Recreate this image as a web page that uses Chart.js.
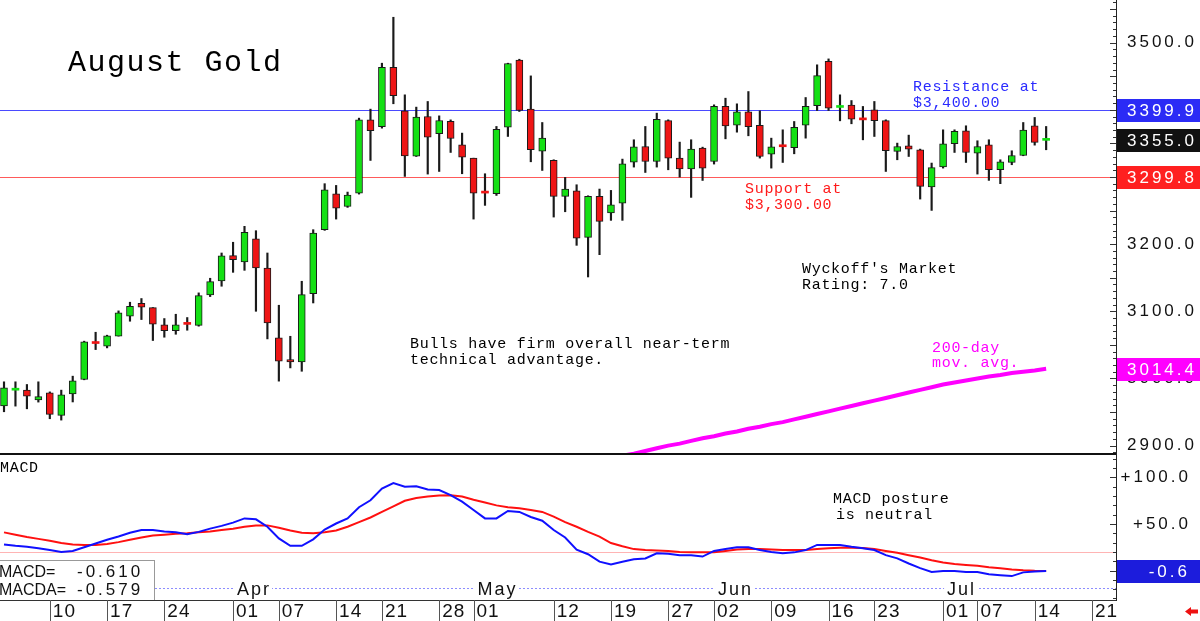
<!DOCTYPE html>
<html>
<head>
<meta charset="utf-8">
<title>August Gold</title>
<script src="https://cdn.jsdelivr.net/npm/chart.js@4.4.1/dist/chart.umd.min.js"></script>
<style>
  body { margin: 0; background: #fff; }
  #wrap { position: relative; width: 1200px; height: 621px; overflow: hidden; }
  #price { position: absolute; left: 0; top: 0; }
  #macd { position: absolute; left: 0; top: 453px; }
</style>
</head>
<body>
<div id="wrap">
  <canvas id="price" width="1200" height="453"></canvas>
  <canvas id="macd" width="1200" height="168"></canvas>
</div>
<script>
// --- Data: one entry per trading day, Mar 04 .. Jul 15 ---
const opens = [2959, 2982.5, 2982.6, 2968, 2978.6, 2945, 2977, 2998.4, 3052.5, 3048,
  3063, 3092.6, 3112, 3105.5, 3079.8, 3071.3, 3081, 3079, 3124.4, 3145.2,
  3183, 3173.5, 3208, 3164.5, 3060.3, 3028, 3024.7, 3126.3, 3221.5, 3275,
  3256, 3276, 3385, 3375, 3463.4, 3398.5, 3331, 3390, 3364.3, 3383,
  3348, 3328, 3276.5, 3275, 3374, 3474, 3401, 3338.5, 3324.6, 3271,
  3279.5, 3210, 3271, 3246.3, 3261, 3322, 3345.4, 3323, 3384, 3328,
  3312, 3343, 3323, 3405, 3377, 3397, 3377, 3334, 3346, 3343.5,
  3377, 3406, 3472, 3403.5, 3407, 3385.5, 3400, 3384, 3338, 3346.4,
  3340.5, 3285, 3315, 3349.4, 3368.7, 3335.5, 3348, 3310.7, 3321.6, 3332,
  3376, 3354.5];
const highs = [2995, 2995, 2991, 2995, 2980, 2982.6, 3003.4, 3055.5, 3068.8, 3064.4,
  3100.6, 3113.5, 3119, 3105.5, 3089.2, 3095.6, 3090.7, 3127.4, 3149.2, 3186.8,
  3202.8, 3226.5, 3220, 3186.8, 3109, 3062.8, 3144.7, 3221.5, 3290, 3287.4,
  3277.5, 3387.6, 3401, 3469.4, 3537.8, 3422.3, 3404, 3412.4, 3391, 3385,
  3365.3, 3328, 3304.8, 3375.2, 3469.4, 3475.3, 3450.5, 3381.1, 3325.6, 3299.3,
  3288.4, 3272, 3282, 3280, 3326.6, 3355.4, 3375.2, 3395, 3385.1, 3351.9,
  3355.4, 3344.4, 3407.4, 3417.3, 3408.9, 3427.2, 3398.5, 3357.8, 3370.2, 3382.6,
  3418.3, 3467, 3475.8, 3422.3, 3413.8, 3405, 3412.4, 3385.1, 3350.4, 3362.3,
  3341.5, 3320.7, 3370.2, 3370.2, 3376.2, 3353.9, 3355.4, 3325.6, 3339, 3381.1,
  3388.6, 3375.2];
const lows = [2950.4, 2958.8, 2954.8, 2964.8, 2940, 2938, 2965, 2998, 3043, 3045.5,
  3063, 3085.2, 3087.7, 3056.5, 3061.4, 3065.8, 3071.8, 3077.8, 3121.9, 3137.3,
  3158, 3161, 3100, 3058.9, 2996, 3015.7, 3010.7, 3112.4, 3220.5, 3237.3,
  3254.7, 3274.5, 3324.6, 3372.7, 3409, 3300.8, 3330.5, 3304.3, 3308.2, 3336.5,
  3304.8, 3237.3, 3257.7, 3272.5, 3360.3, 3397.5, 3322.6, 3309.7, 3240.3, 3248.2,
  3198.2, 3151.1, 3184.3, 3235.4, 3235.4, 3314.7, 3306.7, 3314.7, 3310.7, 3299.8,
  3269.6, 3294.8, 3319.2, 3356.8, 3366.7, 3361.3, 3328.1, 3313.2, 3321.6, 3334.5,
  3357.8, 3399, 3399, 3383.6, 3379.2, 3355.3, 3360.3, 3308.2, 3325.6, 3330.5,
  3267.1, 3250.2, 3313.2, 3336.5, 3321.6, 3304.3, 3294.9, 3290, 3318.2, 3331.6,
  3347.4, 3340.5];
const closes = [2986, 2983, 2973.7, 2973, 2946.4, 2975.6, 2996.5, 3054.5, 3052, 3063.4,
  3097.6, 3107.5, 3106, 3081, 3071.3, 3079.8, 3080.5, 3123.4, 3144.2, 3182.4,
  3177, 3217.6, 3164.5, 3082.7, 3025.7, 3024.7, 3124.8, 3216.5, 3281, 3253.7,
  3273, 3385, 3369, 3463.4, 3421, 3331.5, 3389, 3359.4, 3384.1, 3357.3,
  3329.6, 3276, 3276, 3371, 3469, 3399, 3340.5, 3357.8, 3271, 3282,
  3209, 3271, 3234, 3258.7, 3319.6, 3345, 3323, 3386, 3328, 3312,
  3341.5, 3313, 3405, 3376, 3397, 3375, 3330.5, 3345, 3345, 3374,
  3405, 3451, 3402.5, 3404, 3386, 3385, 3384, 3339, 3345.4, 3341.5,
  3286, 3314, 3349.4, 3367.8, 3336.5, 3345.4, 3310.7, 3322.6, 3332, 3370,
  3351.4, 3355];

// 200-day moving average, visible part only (starts at trading day index 50)
const maStart = 50;
const ma200 = [2869, 2873, 2877, 2881, 2885, 2888, 2892, 2896, 2900, 2903,
  2907, 2911, 2914, 2918, 2921, 2925, 2928, 2932, 2935, 2939,
  2943, 2947, 2951, 2955, 2959, 2963, 2967, 2971, 2975, 2979,
  2983, 2987, 2991, 2994, 2997, 3000, 3003, 3005, 3008, 3010,
  3012, 3014.4];

const macdLine = [28, 26.5, 25.5, 24, 22, 20, 21, 25, 29, 33,
  36.5, 40.5, 43.5, 43.5, 42, 41, 39, 41.5, 45, 48,
  51.5, 56, 55, 47, 34.5, 26.5, 26.5, 33.5, 44, 50.5,
  56, 68, 75.5, 88, 94, 90, 90.5, 87, 86.5, 81,
  74, 65, 56, 56, 64, 63, 57.5, 53.5, 43.5, 35.5,
  22.5, 17.5, 9.5, 6.5, 9.5, 12, 13, 18.5, 18, 16.5,
  16.5, 15, 21, 23, 25, 25, 22, 20, 18.5, 19.5,
  22, 27.5, 27.5, 27.5, 25.5, 24, 22, 16.5, 13, 7.5,
  2.5, -1.5, -0.5, -0.5, -1.5, -1.5, -4, -5, -6, -2,
  -1, -0.61];
const macdSignal = [41, 38.5, 36, 34, 32, 29.5, 28, 27.5, 27.5, 28.5,
  30.5, 33, 35.5, 37.5, 38.5, 39.5, 40, 41, 42, 43.5,
  45, 47, 48.5, 48.5, 46, 43, 40.5, 40, 41, 43,
  47, 52, 57, 63, 69, 75, 78, 79.5, 80.5, 81,
  79.5, 76, 73, 70, 68, 67, 65, 63, 58, 52,
  47, 41.5, 36.5, 29.5, 26, 23, 22, 21.5, 21, 20,
  19.5, 19.5, 19.5, 21, 22.5, 23, 23, 22.5, 22, 22,
  22, 23, 24, 24.5, 24.5, 24.3, 23, 21, 19, 16.5,
  14, 11, 8.7, 7, 6, 5, 3.5, 2.5, 1.2, 0.3,
  -0.3, -0.579];

// axis labels
const priceTicks = [2900, 3000, 3100, 3200, 3300, 3400, 3500];
const macdTicks = [50, 100];
const dayTickIdx = [4, 9, 14, 20, 24, 29, 33, 38, 41, 48, 53, 58, 62, 67, 72, 76, 82, 85, 90, 95];
const dayTickText = ['10', '17', '24', '01', '07', '14', '21', '28', '01', '12', '19', '27', '02', '09', '16', '23', '01', '07', '14', '21'];
const monthIdx = [20, 41, 62, 82];
const monthText = ['Apr', 'May', 'Jun', 'Jul'];

const RESISTANCE = 3399.9;
const SUPPORT = 3299.8;
const MACD_REF = 20;     // faint reference line in the MACD panel
const MONTH_LINE = -19;  // dotted month line

// --- look ---
const X_MIN = -0.35, X_MAX = 97.1;
const AXIS_W = 84;
const GREEN = '#14e014', RED = '#ee1515', EDGE = '#1a1a1a';
const TICK_FONT = '17px "Liberation Sans", Arial, sans-serif';
const NOTE_FONT = '15px "Liberation Mono", "DejaVu Sans Mono", monospace';

function txt(ctx, s, x, y, font, color, spacing, align) {
  ctx.save();
  ctx.font = font;
  ctx.fillStyle = color;
  ctx.letterSpacing = (spacing || 0) + 'px';
  ctx.textAlign = align || 'left';
  ctx.textBaseline = 'alphabetic';
  ctx.fillText(s, x, y);
  ctx.restore();
}

function valueBox(ctx, y, label, bg, align) {
  ctx.save();
  ctx.fillStyle = bg;
  ctx.fillRect(1117, Math.round(y) - 11, 83, 23);
  ctx.restore();
  if (align === 'right') txt(ctx, label, 1190, y + 6, TICK_FONT, '#fff', 3, 'right');
  else txt(ctx, label, 1127, y + 6, TICK_FONT, '#fff', 3);
}

function axisTicks(ctx, scale, step, big) {
  ctx.save();
  ctx.strokeStyle = '#333';
  ctx.lineWidth = 1;
  const start = Math.ceil(scale.min / step) * step;
  for (let v = start; v <= scale.max; v += step) {
    const y = Math.round(scale.getPixelForValue(v)) + 0.5;
    const len = (Math.round(v) % big === 0) ? 6 : 3;
    ctx.beginPath();
    ctx.moveTo(1116 - len, y);
    ctx.lineTo(1116, y);
    ctx.stroke();
  }
  ctx.restore();
}

// fixed-width right axis with no extra room above or below the plot
const fitAxis = w => s => {
  s.width = w;
  s.paddingTop = 0;
  s.paddingBottom = 0;
};

const spacingPlugin = {
  id: 'spacing',
  beforeLayout(chart) { chart.ctx.letterSpacing = '3px'; },
  beforeDraw(chart) { chart.ctx.letterSpacing = '3px'; }
};

// --- price panel ---
const priceDecor = {
  id: 'priceDecor',
  beforeDatasetsDraw(chart) {
    const { ctx, chartArea: a, scales: { y } } = chart;
    ctx.save();
    ctx.lineWidth = 1;
    ctx.strokeStyle = '#4a4aff';
    let py = Math.round(y.getPixelForValue(RESISTANCE)) + 0.5;
    ctx.beginPath(); ctx.moveTo(a.left, py); ctx.lineTo(a.right, py); ctx.stroke();
    ctx.strokeStyle = '#ff5a5a';
    py = Math.round(y.getPixelForValue(SUPPORT)) + 0.5;
    ctx.beginPath(); ctx.moveTo(a.left, py); ctx.lineTo(a.right, py); ctx.stroke();
    ctx.restore();
  },
  afterDraw(chart) {
    const { ctx, scales: { y } } = chart;
    txt(ctx, 'August Gold', 68, 71, '30px "Liberation Mono", "DejaVu Sans Mono", monospace', '#000', 1.5);
    txt(ctx, 'Resistance at', 913, 91, NOTE_FONT, '#2a2aff', 0.7);
    txt(ctx, '$3,400.00', 913, 107, NOTE_FONT, '#2a2aff', 0.7);
    txt(ctx, 'Support at', 745, 193, NOTE_FONT, '#ff1a1a', 0.7);
    txt(ctx, '$3,300.00', 745, 209, NOTE_FONT, '#ff1a1a', 0.7);
    txt(ctx, "Wyckoff's Market", 802, 273, NOTE_FONT, '#000', 0.7);
    txt(ctx, 'Rating: 7.0', 802, 289, NOTE_FONT, '#000', 0.7);
    txt(ctx, 'Bulls have firm overall near-term', 410, 348, NOTE_FONT, '#000', 0.7);
    txt(ctx, 'technical advantage.', 410, 364, NOTE_FONT, '#000', 0.7);
    txt(ctx, '200-day', 932, 352, NOTE_FONT, '#ff00ff', 0.7);
    txt(ctx, 'mov. avg.', 932, 367, NOTE_FONT, '#ff00ff', 0.7);

    axisTicks(ctx, y, 10, 50);
    valueBox(ctx, y.getPixelForValue(RESISTANCE), RESISTANCE.toFixed(1), '#2b2bf6');
    valueBox(ctx, y.getPixelForValue(closes[closes.length - 1]), closes[closes.length - 1].toFixed(1), '#111');
    valueBox(ctx, y.getPixelForValue(SUPPORT), SUPPORT.toFixed(1), '#ff2020');
    valueBox(ctx, y.getPixelForValue(ma200[ma200.length - 1]), ma200[ma200.length - 1].toFixed(1), '#ff00ff');
  }
};

const isDoji = i => Math.abs(opens[i] - closes[i]) < 1.5;

new Chart(document.getElementById('price'), {
  type: 'bar',
  data: {
    datasets: [
      {
        type: 'line',
        data: ma200.map((v, k) => ({ x: maStart + k, y: v })),
        borderColor: '#ff00ff',
        borderWidth: 4,
        pointRadius: 0,
        order: 0
      },
      {
        data: opens.map((o, i) => ({ x: i, y: [o, closes[i]] })),
        grouped: false,
        barThickness: 7,
        minBarLength: 2,
        borderSkipped: false,
        backgroundColor: c => (c.dataIndex === undefined || closes[c.dataIndex] >= opens[c.dataIndex]) ? GREEN : RED,
        borderColor: EDGE,
        borderWidth: c => (c.dataIndex !== undefined && isDoji(c.dataIndex)) ? 0 : 1,
        order: 1
      },
      {
        data: lows.map((l, i) => ({ x: i, y: [l, highs[i]] })),
        grouped: false,
        barThickness: 1.5,
        backgroundColor: EDGE,
        borderWidth: 0,
        order: 2
      }
    ]
  },
  options: {
    responsive: false,
    animation: false,
    layout: { padding: 0, autoPadding: false },
    plugins: { legend: { display: false }, tooltip: { enabled: false } },
    scales: {
      x: { type: 'linear', min: X_MIN, max: X_MAX, offset: false, display: false },
      y: {
        position: 'right',
        min: 2889,
        max: 3563.5,
        afterBuildTicks: s => { s.ticks = priceTicks.map(v => ({ value: v })); },
        afterFit: fitAxis(AXIS_W),
        grid: { display: false, drawTicks: false },
        border: { display: true, color: '#222', width: 1 },
        ticks: {
          font: { family: '"Liberation Sans", Arial, sans-serif', size: 17 },
          color: '#111',
          padding: 11,
          crossAlign: 'near',
          callback: v => v.toFixed(1)
        }
      }
    }
  },
  plugins: [spacingPlugin, priceDecor]
});

// --- MACD panel ---
const macdDecor = {
  id: 'macdDecor',
  beforeDatasetsDraw(chart) {
    const { ctx, chartArea: a, scales: { y } } = chart;
    ctx.save();
    ctx.lineWidth = 1;
    ctx.strokeStyle = '#ffb4b4';
    const ry = Math.round(y.getPixelForValue(MACD_REF)) + 0.5;
    ctx.beginPath(); ctx.moveTo(a.left, ry); ctx.lineTo(a.right, ry); ctx.stroke();
    ctx.strokeStyle = '#8c8cff';
    ctx.setLineDash([2, 2]);
    const my = Math.round(y.getPixelForValue(MONTH_LINE)) + 0.5;
    ctx.beginPath(); ctx.moveTo(155, my); ctx.lineTo(a.right, my); ctx.stroke();
    ctx.restore();
  },
  afterDraw(chart) {
    const { ctx, chartArea: a, scales: { x, y } } = chart;
    const my = y.getPixelForValue(MONTH_LINE);
    const MONTH_FONT = '18px "Liberation Sans", Arial, sans-serif';

    // month labels over the dotted line
    monthIdx.forEach((idx, k) => {
      const px = x.getPixelForValue(idx) + 4;
      ctx.save();
      ctx.font = MONTH_FONT;
      ctx.letterSpacing = '2px';
      const w = ctx.measureText(monthText[k]).width;
      ctx.fillStyle = '#fff';
      ctx.fillRect(px - 3, my - 3, w + 4, 6);
      ctx.restore();
      txt(ctx, monthText[k], px, my + 7, MONTH_FONT, '#111', 2);
    });

    // top divider
    ctx.save();
    ctx.fillStyle = '#111';
    ctx.fillRect(0, 0, a.right, 2);
    ctx.restore();

    txt(ctx, 'MACD', 0, 19, NOTE_FONT, '#000', 0.7);
    txt(ctx, 'MACD posture', 833, 50, NOTE_FONT, '#000', 0.7);
    txt(ctx, 'is neutral', 836, 66, NOTE_FONT, '#000', 0.7);

    // value box, bottom left
    ctx.save();
    ctx.fillStyle = '#fff';
    ctx.fillRect(0, 107, 155, 40);
    ctx.strokeStyle = '#999';
    ctx.lineWidth = 1;
    ctx.strokeRect(-1, 107.5, 155.5, 40);
    ctx.restore();
    txt(ctx, 'MACD=', -1, 124, '16px "Liberation Sans", Arial, sans-serif', '#111', 0);
    txt(ctx, 'MACDA=', -1, 142, '16px "Liberation Sans", Arial, sans-serif', '#111', 0);
    txt(ctx, macdLine[macdLine.length - 1].toFixed(3), 77, 124, TICK_FONT, '#111', 3);
    txt(ctx, macdSignal[macdSignal.length - 1].toFixed(3), 77, 142, TICK_FONT, '#111', 3);

    // date axis
    ctx.save();
    ctx.strokeStyle = '#333';
    ctx.lineWidth = 1;
    ctx.beginPath(); ctx.moveTo(0, a.bottom + 0.5); ctx.lineTo(a.right, a.bottom + 0.5); ctx.stroke();
    ctx.strokeStyle = '#555';
    dayTickIdx.forEach(idx => {
      const px = Math.round(x.getPixelForValue(idx)) + 0.5;
      ctx.beginPath(); ctx.moveTo(px, a.bottom); ctx.lineTo(px, chart.height); ctx.stroke();
    });
    ctx.restore();
    dayTickIdx.forEach((idx, k) => {
      txt(ctx, dayTickText[k], x.getPixelForValue(idx) + 3, 164, '19px "Liberation Sans", Arial, sans-serif', '#111', 1);
    });

    // little red arrow, bottom right
    ctx.save();
    ctx.fillStyle = '#ee1111';
    ctx.beginPath();
    ctx.moveTo(1185, 158.5); ctx.lineTo(1191, 154); ctx.lineTo(1191, 156.5); ctx.lineTo(1198, 156.5);
    ctx.lineTo(1198, 160.5); ctx.lineTo(1191, 160.5); ctx.lineTo(1191, 163); ctx.closePath();
    ctx.fill();
    ctx.restore();

    axisTicks(ctx, y, 10, 50);
    const last = macdLine[macdLine.length - 1];
    valueBox(ctx, y.getPixelForValue(last), last.toFixed(1), '#1c1cdc', 'right');
  }
};

new Chart(document.getElementById('macd'), {
  type: 'line',
  data: {
    datasets: [
      {
        data: macdLine.map((v, i) => ({ x: i, y: v })),
        borderColor: '#1010ff',
        borderWidth: 2,
        pointRadius: 0,
        tension: 0
      },
      {
        data: macdSignal.map((v, i) => ({ x: i, y: v })),
        borderColor: '#ff1010',
        borderWidth: 2,
        pointRadius: 0,
        tension: 0
      }
    ]
  },
  options: {
    responsive: false,
    animation: false,
    // right padding + narrower axis keeps the plot edge at 1116 and right-aligns labels near 1190
    layout: { padding: { bottom: 21, right: 9 }, autoPadding: false },
    plugins: { legend: { display: false }, tooltip: { enabled: false } },
    scales: {
      x: { type: 'linear', min: X_MIN, max: X_MAX, offset: false, display: false },
      y: {
        position: 'right',
        min: -31.7,
        max: 126.3,
        afterBuildTicks: s => { s.ticks = macdTicks.map(v => ({ value: v })); },
        afterFit: fitAxis(AXIS_W - 9),
        grid: { display: false, drawTicks: false },
        border: { display: true, color: '#222', width: 1 },
        ticks: {
          font: { family: '"Liberation Sans", Arial, sans-serif', size: 17 },
          color: '#111',
          padding: 0,
          crossAlign: 'far',
          callback: v => '+' + v.toFixed(1)
        }
      }
    }
  },
  plugins: [spacingPlugin, macdDecor]
});
</script>
</body>
</html>
